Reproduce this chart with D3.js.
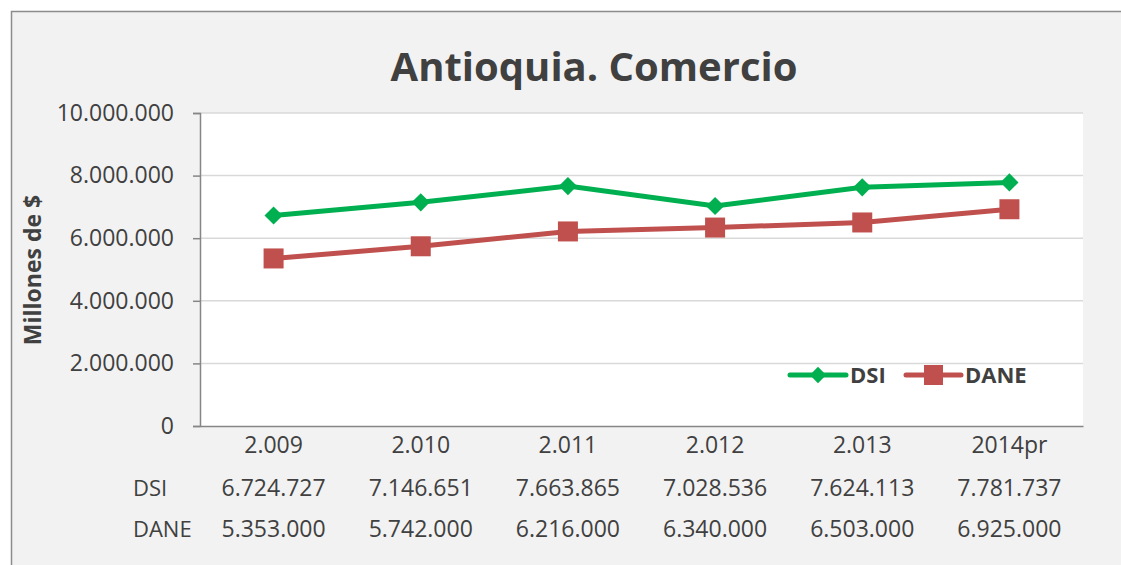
<!DOCTYPE html>
<html lang="es">
<head>
<meta charset="utf-8">
<title>Antioquia. Comercio</title>
<script src="https://d3js.org/d3.v7.min.js"></script>
<style>
  body { margin: 0; background: #fff; }
  text { font-family: "Open Sans", "Noto Sans", sans-serif; fill: #404040; }
</style>
</head>
<body>
<div id="chart"></div>
<script>
// datos
var anios = ["2.009", "2.010", "2.011", "2.012", "2.013", "2014pr"];
var dsi = [6724727, 7146651, 7663865, 7028536, 7624113, 7781737];
var dane = [5353000, 5742000, 6216000, 6340000, 6503000, 6925000];
var ticksY = [0, 2000000, 4000000, 6000000, 8000000, 10000000];

var ancho = 1121, alto = 565;
var margin = {top: 113, right: 38, bottom: 139, left: 200};
var anchoVis = ancho - margin.left - margin.right,
    altoVis = alto - margin.top - margin.bottom;

var formato = d3.formatLocale({decimal: ",", thousands: ".", grouping: [3], currency: ["$", ""]}).format(",d");

var svg = d3.select("#chart").append("svg")
  .attr("width", ancho).attr("height", alto);

// area del grafico
svg.append("rect")
  .attr("x", 11.5).attr("y", 11.5)
  .attr("width", ancho).attr("height", alto)
  .attr("fill", "#f2f2f2").attr("stroke", "#8c8c8c").attr("stroke-width", 1.5);

svg.append("text")
  .attr("x", 594).attr("y", 81)
  .attr("text-anchor", "middle")
  .style("font-size", "40px").style("font-weight", "bold")
  .text("Antioquia. Comercio");

var g = svg.append("g").attr("transform", "translate(" + margin.left + "," + margin.top + ")");

g.append("rect").attr("width", anchoVis).attr("height", altoVis).attr("fill", "#fff");

var x = d3.scaleBand().domain(anios).range([0, anchoVis]);
var y = d3.scaleLinear().domain([0, 10000000]).range([altoVis, 0]);

// lineas de la grilla
g.selectAll(".grid").data(ticksY.slice(1)).enter()
  .append("line")
  .attr("x1", 0).attr("x2", anchoVis)
  .attr("y1", d => y(d)).attr("y2", d => y(d))
  .attr("stroke", "#d9d9d9").attr("stroke-width", 1.5);

// eje Y
var ejeY = g.append("g")
  .call(d3.axisLeft(y).tickValues(ticksY).tickFormat(formato).tickSize(7).tickPadding(19));
ejeY.select(".domain").attr("stroke", "#868686").attr("stroke-width", 1.5);
ejeY.selectAll(".tick line").attr("stroke", "#868686").attr("stroke-width", 1.5);
ejeY.selectAll("text").style("font-size", "23px").attr("fill", "#404040")
  .style("font-family", "'Open Sans', sans-serif");

// eje X
var ejeX = g.append("g").attr("transform", "translate(0," + altoVis + ")")
  .call(d3.axisBottom(x).tickSize(0).tickPadding(11));
ejeX.select(".domain").attr("stroke", "#868686").attr("stroke-width", 1.5);
ejeX.selectAll("text").style("font-size", "23px").attr("fill", "#404040")
  .style("font-family", "'Open Sans', sans-serif");

svg.append("text")
  .attr("transform", "translate(41,270) rotate(-90)")
  .attr("text-anchor", "middle")
  .style("font-size", "23px").style("font-weight", "bold")
  .text("Millones de $");

var linea = d3.line().x((d, i) => x(anios[i]) + x.bandwidth() / 2).y(d => y(d));

g.append("path").datum(dsi).attr("d", linea)
  .attr("fill", "none").attr("stroke", "#00b050").attr("stroke-width", 5);
g.append("path").datum(dane).attr("d", linea)
  .attr("fill", "none").attr("stroke", "#c0504d").attr("stroke-width", 5);

var diamante = d3.symbol().type(d3.symbolDiamond2).size(210);
g.selectAll(".dsi").data(dsi).enter()
  .append("path")
  .attr("d", diamante)
  .attr("transform", (d, i) => "translate(" + (x(anios[i]) + x.bandwidth() / 2) + "," + y(d) + ")")
  .attr("fill", "#00b050");

g.selectAll(".dane").data(dane).enter()
  .append("rect")
  .attr("x", (d, i) => x(anios[i]) + x.bandwidth() / 2 - 10)
  .attr("y", d => y(d) - 10)
  .attr("width", 20).attr("height", 20)
  .attr("fill", "#c0504d");

// leyenda
var leyenda = svg.append("g").attr("transform", "translate(0,375)");
leyenda.append("line").attr("x1", 790).attr("x2", 846).attr("stroke", "#00b050").attr("stroke-width", 5).attr("stroke-linecap", "round");
leyenda.append("path").attr("d", d3.symbol().type(d3.symbolDiamond2).size(170)).attr("transform", "translate(818,0)").attr("fill", "#00b050");
leyenda.append("text").attr("x", 850).attr("y", 8).style("font-size", "22px").style("font-weight", "bold").text("DSI");
leyenda.append("line").attr("x1", 906).attr("x2", 961).attr("stroke", "#c0504d").attr("stroke-width", 5).attr("stroke-linecap", "round");
leyenda.append("rect").attr("x", 924).attr("y", -10).attr("width", 19).attr("height", 20).attr("fill", "#c0504d");
leyenda.append("text").attr("x", 965).attr("y", 8).style("font-size", "22px").style("font-weight", "bold").text("DANE");

// tabla de datos
var filas = [{nombre: "DSI", valores: dsi, yy: 496}, {nombre: "DANE", valores: dane, yy: 537}];
filas.forEach(function(f) {
  svg.append("text").attr("x", 133).attr("y", f.yy).style("font-size", "22px").text(f.nombre);
  svg.selectAll(null).data(f.valores).enter()
    .append("text")
    .attr("x", (d, i) => margin.left + x(anios[i]) + x.bandwidth() / 2)
    .attr("y", f.yy)
    .attr("text-anchor", "middle")
    .style("font-size", "23px")
    .text(d => formato(d));
});
</script>
</body>
</html>
